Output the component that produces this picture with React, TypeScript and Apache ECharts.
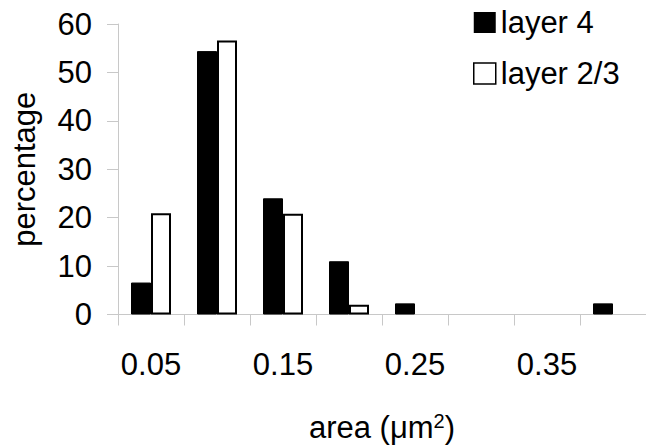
import React, { useEffect, useRef } from "react";
import * as echarts from "echarts";

const categories = ["0.05", "0.10", "0.15", "0.20", "0.25", "0.30", "0.35", "0.40"];
const layer4 = [6.6, 54.4, 24.0, 11.0, 2.3, 0, 0, 2.3];
const layer23 = [20.9, 56.6, 20.8, 2.0, 0, 0, 0, 0];
const yTicks = { min: 0, max: 60, interval: 10 };

const FONT = "'Liberation Sans', Arial, Helvetica, sans-serif";

export default function App() {
  const ref = useRef<HTMLDivElement>(null);
  useEffect(() => {
    document.body.style.margin = "0";
    document.body.style.overflow = "hidden";
    document.documentElement.style.overflow = "hidden";
    if (!ref.current) return;
    const chart = echarts.init(ref.current, null, { renderer: "svg" });
    const axisColor = "#c8c8c8";
    chart.setOption({
      animation: false,
      backgroundColor: "#ffffff",
      textStyle: { fontFamily: FONT, color: "#000" },
      grid: { left: 118, top: 24, width: 530, height: 295, containLabel: false },
      legend: {
        orient: "vertical",
        left: 473,
        top: 7,
        padding: 0,
        itemWidth: 22,
        itemHeight: 21,
        itemGap: 20,
        selectedMode: false,
        textStyle: { fontFamily: FONT, fontSize: 31, color: "#000", lineHeight: 30 },
        data: [
          { name: "layer 4", icon: "rect", itemStyle: { color: "#000", borderColor: "#000", borderWidth: 0 } },
          { name: "layer 2/3", icon: "rect", itemStyle: { color: "#fff", borderColor: "#000", borderWidth: 1.5 } },
        ],
      },
      xAxis: {
        type: "category",
        data: categories,
        boundaryGap: true,
        name: "area (\u03bcm{sup|2})",
        nameLocation: "middle",
        nameGap: 96,
        nameTextStyle: {
          fontFamily: FONT,
          fontSize: 31,
          color: "#000",
          rich: { sup: { fontFamily: FONT, fontSize: 20, color: "#000", padding: [0, 0, 14, 0] } },
        },
        axisLine: { lineStyle: { color: axisColor, width: 1 } },
        axisTick: { show: true, interval: 0, length: 11, lineStyle: { color: axisColor } },
        axisLabel: { interval: 1, margin: 34, fontFamily: FONT, fontSize: 31, color: "#000" },
        splitLine: { show: false },
      },
      yAxis: {
        type: "value",
        min: yTicks.min,
        max: yTicks.max,
        interval: yTicks.interval,
        name: "percentage",
        nameLocation: "middle",
        nameRotate: 90,
        nameGap: 78,
        nameTextStyle: { fontFamily: FONT, fontSize: 31, color: "#000" },
        axisLine: { show: true, lineStyle: { color: axisColor, width: 1 } },
        axisTick: { show: true, length: 11, lineStyle: { color: axisColor } },
        axisLabel: { margin: 26, fontFamily: FONT, fontSize: 31, color: "#000" },
        splitLine: { show: false },
      },
      series: [
        {
          name: "layer 4",
          type: "bar",
          data: layer4.map((v) => (v === 0 ? null : v)),
          barWidth: 20,
          barGap: "0%",
          itemStyle: { color: "#000", borderColor: "#000", borderWidth: 1 },
        },
        {
          name: "layer 2/3",
          type: "bar",
          data: layer23.map((v) => (v === 0 ? null : v)),
          barWidth: 20,
          barGap: "0%",
          itemStyle: { color: "#fff", borderColor: "#000", borderWidth: 2 },
        },
      ],
    });
    return () => chart.dispose();
  }, []);
  return (
    <div style={{ position: "fixed", left: 0, top: 0, width: 646, height: 448, overflow: "hidden", background: "#fff" }}>
      <div ref={ref} style={{ width: 646, height: 448 }} />
    </div>
  );
}
